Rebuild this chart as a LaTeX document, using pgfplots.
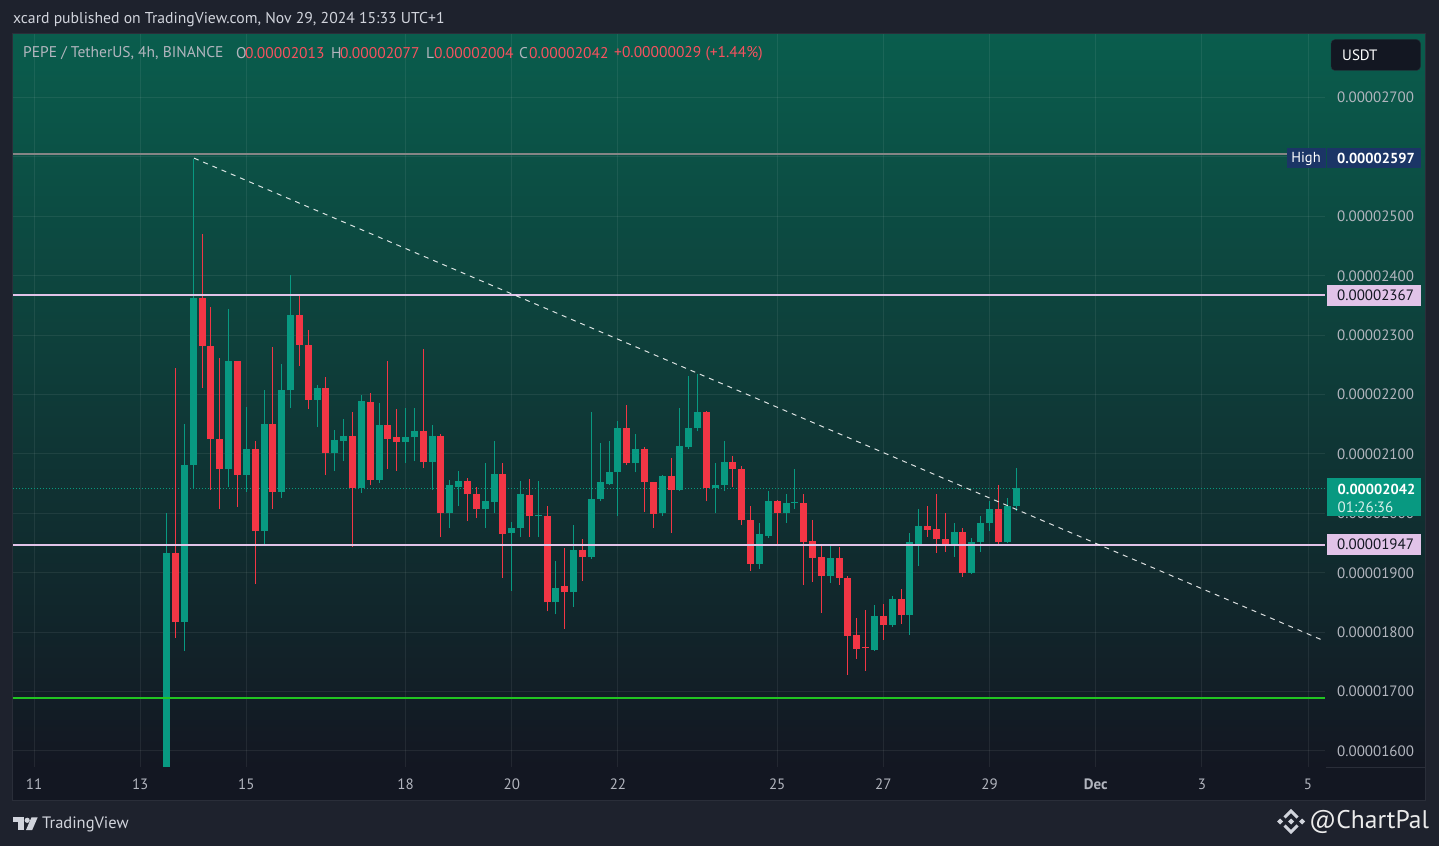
\documentclass[border=0pt]{standalone}
\usepackage{fontspec}
\setmainfont{PT Sans}
\usepackage{pgfplots}
\pgfplotsset{compat=1.18}
\usepackage{pgfplotstable}
\definecolor{upc}{HTML}{089981}
\definecolor{dnc}{HTML}{F23645}
\definecolor{outerbg}{HTML}{1E222D}
\definecolor{timebg}{HTML}{131722}
\definecolor{gtop}{HTML}{0A5D4D}
\definecolor{gbot}{HTML}{131722}
\definecolor{framec}{HTML}{2A2E39}
\definecolor{tickgray}{HTML}{B2B5BE}
\definecolor{headc}{HTML}{D1D4DC}
\definecolor{valred}{HTML}{F7525F}
\definecolor{pinkc}{HTML}{E1C3E8}
\definecolor{highbg}{HTML}{1B3566}
\definecolor{highline}{HTML}{858585}
\definecolor{levelgreen}{HTML}{22C522}
\definecolor{darktext}{HTML}{131722}
\newcommand\fs[1]{\fontsize{#1}{#1}\selectfont}
\pgfplotstableread{
i o h l c
0 1573 2000 1573 1933
1 1933 2245 1791 1817
2 1817 2150 1768 2081
3 2081 2597 2042 2362
4 2362 2470 2211 2282
5 2282 2347 2040 2125
6 2125 2261 2008 2074
7 2074 2344 2045 2256
8 2256 2257 2011 2065
9 2065 2179 2036 2109
10 2109 2121 1881 1970
11 1970 2207 1949 2150
12 2150 2280 2008 2036
13 2036 2251 2026 2207
14 2207 2401 2178 2334
15 2334 2367 2248 2284
16 2284 2308 2176 2191
17 2191 2216 2145 2211
18 2211 2229 2065 2101
19 2101 2141 2071 2123
20 2121 2159 2088 2130
21 2130 2170 1944 2042
22 2042 2199 2035 2189
23 2188 2203 2047 2057
24 2057 2186 2051 2149
25 2149 2257 2074 2126
26 2129 2176 2072 2120
27 2120 2178 2084 2129
28 2128 2178 2088 2138
29 2138 2277 2076 2086
30 2086 2148 2039 2131
31 2131 2134 1960 2000
32 2000 2057 1975 2048
33 2045 2072 2012 2055
34 2055 2060 1987 2032
35 2033 2045 1992 2007
36 2007 2085 1975 2020
37 2019 2122 2000 2067
38 2067 2085 1892 1966
39 1967 1986 1870 1976
40 1975 2055 1961 2033
41 2031 2058 1960 1995
42 1995 2055 1960 1996
43 1996 2013 1835 1850
44 1850 1919 1830 1875
45 1877 1942 1805 1867
46 1867 1981 1843 1939
47 1939 1957 1886 1927
48 1926 2170 1924 2025
49 2025 2119 2020 2052
50 2050 2121 2048 2070
51 2069 2156 1995 2144
52 2144 2183 2082 2084
53 2084 2134 2069 2109
54 2109 2112 2003 2052
55 2053 2053 1976 1999
56 2001 2065 1996 2063
57 2063 2094 1967 2039
58 2039 2178 2038 2114
59 2112 2232 2109 2144
60 2143 2235 2138 2170
61 2171 2173 2020 2043
62 2043 2085 2000 2048
63 2048 2122 2038 2087
64 2087 2097 2045 2075
65 2075 2080 1981 1988
66 1989 2013 1903 1915
67 1915 1983 1907 1966
68 1962 2037 1959 2020
69 2021 2023 1947 2001
70 2001 2033 1984 2018
71 2018 2075 2008 2018.5
72 2018 2033 1880 1951
73 1954 1989 1885 1925
74 1927 1947 1833 1895
75 1895 1947 1883 1925
76 1925 1944 1880 1892
77 1892 1895 1728 1794
78 1796 1824 1755 1772
79 1774 1838 1735 1773
80 1770 1846 1769 1828
81 1828 1848 1787 1812
82 1812 1861 1809 1856
83 1856 1873 1814 1829
84 1829 1967 1796 1951
85 1949 2008 1912 1979
86 1979 2013 1961 1972
87 1974 2033 1934 1956
88 1957 2000 1935 1946
89 1946 1984 1927 1969
90 1969 1976 1893 1900
91 1900 1959 1898 1952
92 1951 1996 1935 1984
93 1984 2021 1971 2008
94 2008 2047 1949 1951
95 1951 2026 1950 2013
96 2013 2077 2004 2042
}\candles
\pgfplotsset{candle/.style={draw=none, mark=none, forget plot,
  error bars/.cd, y dir=plus, y explicit, error mark=none}}
\begin{document}
\begin{tikzpicture}
\useasboundingbox (0,0) rectangle (1439pt,846pt);
\begin{scope}[x=1pt,y=-1pt,shift={(0pt,846pt)}]
  \fill[outerbg] (0,0) rectangle (1439,846);
  \shade[top color=gtop, bottom color=gbot] (12.5,33.5) rectangle (1425.5,767);
  \fill[timebg] (12.5,767) rectangle (1425.5,800.5);
  \draw[framec, line width=1pt] (12.5,33.5) rectangle (1425.5,800.5);
  \draw[framec, line width=1pt] (1326,767) -- (1425.5,767);
\end{scope}
\begin{axis}[
  at={(13pt,79pt)}, anchor=south west,
  scale only axis, width=1312pt, height=733pt,
  xmin=10.604, xmax=35.32, ymin=1573, ymax=2807,
  axis line style={draw=none},
  tick style={draw=none},
  xtick={11,13,15,18,20,22,25,27,29,31,33,35},
  xticklabels={11,13,15,18,20,22,25,27,29,\textbf{Dec},3,5},
  ytick={1600,1700,1800,1900,2000,2100,2200,2300,2400,2500,2600,2700},
  yticklabels={0.00001600,0.00001700,0.00001800,0.00001900,0.00002000,0.00002100,0.00002200,0.00002300,0.00002400,0.00002500,{},0.00002700},
  yticklabel pos=right,
  xticklabel style={anchor=center, inner sep=0pt, yshift=-17pt, text=tickgray, font=\fs{15}},
  yticklabel style={anchor=west, inner sep=0pt, xshift=12pt, text=tickgray, font=\fs{15}},
  grid=major,
  major grid style={draw=white, draw opacity=0.07, line width=1pt},
  clip=true,
]
% current price dotted line
\addplot[upc, line width=1pt, dash pattern=on 1.2pt off 1.8pt] coordinates {(10.604,2042) (35.32,2042)};
% green wicks
\addplot[candle, error bar style={draw=upc, line width=1pt}]
  table[x expr=13.5+\thisrow{i}/6, y expr={\thisrow{c}>=\thisrow{o} ? \thisrow{l} : nan},
        y error plus expr={\thisrow{h}-\thisrow{l}}] {\candles};
% red wicks
\addplot[candle, error bar style={draw=dnc, line width=1pt}]
  table[x expr=13.5+\thisrow{i}/6, y expr={\thisrow{c}<\thisrow{o} ? \thisrow{l} : nan},
        y error plus expr={\thisrow{h}-\thisrow{l}}] {\candles};
% green bodies
\addplot[candle, error bar style={draw=upc, line width=7pt}]
  table[x expr=13.5+\thisrow{i}/6, y expr={\thisrow{c}>=\thisrow{o} ? \thisrow{o} : nan},
        y error plus expr={max(\thisrow{c}-\thisrow{o},1.7)}] {\candles};
% red bodies
\addplot[candle, error bar style={draw=dnc, line width=7pt}]
  table[x expr=13.5+\thisrow{i}/6, y expr={\thisrow{c}<\thisrow{o} ? \thisrow{c} : nan},
        y error plus expr={max(\thisrow{o}-\thisrow{c},1.7)}] {\candles};
% levels
\addplot[highline, line width=2pt] coordinates {(10.604,2604.5) (35.32,2604.5)};
\addplot[pinkc, line width=2pt] coordinates {(10.604,2367) (35.32,2367)};
\addplot[pinkc, line width=2pt] coordinates {(10.604,1947) (35.32,1947)};
\addplot[levelgreen, line width=2pt] coordinates {(10.604,1689) (35.32,1689)};
% trend line
\addplot[white, draw opacity=0.85, line width=1pt, dash pattern=on 5pt off 5pt] coordinates {(14.014,2598) (35.26,1787)};
\end{axis}
\begin{scope}[x=1pt,y=-1pt,shift={(0pt,846pt)}]
  % header
  \node[anchor=west, inner sep=0pt, text=headc, font=\fs{15.7}] at (13,19.5) {xcard published on TradingView.com, Nov 29, 2024 15:33 UTC+1};
  \begin{scope}[every node/.style={anchor=west, inner sep=0pt, font=\fs{15.5}}]
    \node[text=tickgray] at (23,53.5) {PEPE / TetherUS, 4h, BINANCE};
    \node[text=tickgray] at (236,53.5) {O};
    \node[text=valred] at (245,53.5) {0.00002013};
    \node[text=tickgray] at (331,53.5) {H};
    \node[text=valred] at (340,53.5) {0.00002077};
    \node[text=tickgray] at (426,53.5) {L};
    \node[text=valred] at (434,53.5) {0.00002004};
    \node[text=tickgray] at (519,53.5) {C};
    \node[text=valred] at (529,53.5) {0.00002042};
    \node[text=valred] at (614,53.5) {+0.00000029 (+1.44\%)};
  \end{scope}
  % USDT
  \filldraw[fill=timebg, draw=framec, rounded corners=4pt] (1331,39.5) rectangle (1420.5,70.5);
  \node[anchor=west, inner sep=0pt, text=white, font=\fs{15}] at (1342,55) {USDT};
  % High label
  \fill[highbg] (1287,148.5) rectangle (1325.5,168.5);
  \node[inner sep=0pt, text=white, font=\fs{14.5}] at (1306,158.5) {High};
  \fill[highbg] (1327,148.5) rectangle (1420.5,168.5);
  \node[anchor=west, inner sep=0pt, text=white, font=\bfseries\fs{14.5}] at (1337,158.5) {0.00002597};
  % 2367
  \fill[pinkc] (1327,285) rectangle (1420.5,306);
  \node[anchor=west, inner sep=0pt, text=darktext, font=\fs{15}] at (1337,295.5) {0.00002367};
  % current price
  \fill[upc] (1327,478) rectangle (1420.5,516.5);
  \node[anchor=west, inner sep=0pt, text=white, font=\bfseries\fs{14.5}] at (1337.5,489) {0.00002042};
  \node[anchor=west, inner sep=0pt, text=white!85!upc, font=\fs{15}] at (1337.5,507) {01:26:36};
  % 1947
  \fill[pinkc] (1327,534) rectangle (1420.5,555);
  \node[anchor=west, inner sep=0pt, text=darktext, font=\fs{15}] at (1337,544.5) {0.00001947};
  % TradingView logo
  \fill[headc] (12.8,817.3) rectangle (23.5,822);
  \fill[headc] (18.3,817.3) rectangle (23.5,830);
  \fill[headc] (27.2,820.3) circle (2.6);
  \fill[headc] (31.5,817.3) -- (37.7,817.3) -- (32.2,830) -- (26,830) -- cycle;
  \node[anchor=west, inner sep=0pt, text=headc, font=\fs{16.5}] at (42,824.5) {TradingView};
  % ChartPal logo
  \begin{scope}[draw=headc, line width=3pt]
    \draw (1284.5,817.5) -- (1291,811) -- (1297.5,817.5);
    \draw (1284.5,825.5) -- (1291,832) -- (1297.5,825.5);
  \end{scope}
  \fill[headc] (1291,818.5) -- (1294,821.5) -- (1291,824.5) -- (1288,821.5) -- cycle;
  \fill[headc] (1280,818.5) -- (1283,821.5) -- (1280,824.5) -- (1277,821.5) -- cycle;
  \fill[headc] (1302,818.5) -- (1305,821.5) -- (1302,824.5) -- (1299,821.5) -- cycle;
  \node[anchor=west, inner sep=0pt, text=white!92!black, font=\fs{25.5}] at (1309,822) {@ChartPal};
\end{scope}
\end{tikzpicture}
\end{document}
